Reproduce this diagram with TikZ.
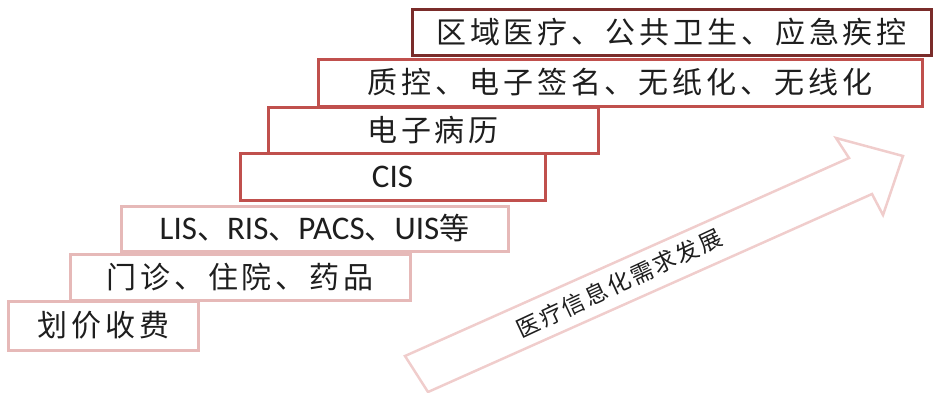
\documentclass[tikz,border=0pt]{standalone}
\usepackage{fontspec}
\setmainfont{Carlito}
\newfontfamily\cjk[LetterSpace=13]{Noto Sans CJK SC}
\newfontfamily\cjkarrow[LetterSpace=9]{Noto Sans CJK SC}
\newcommand{\cjkpart}[1]{{\fontsize{30}{36}\selectfont\cjk #1}}
\definecolor{darkred}{RGB}{122,44,42}
\definecolor{midred}{RGB}{192,80,77}
\definecolor{lightred}{RGB}{230,185,184}
\definecolor{arrowc}{RGB}{240,205,204}
\definecolor{txt}{RGB}{30,30,30}
\tikzset{
  stepbox/.style={draw, line width=3pt, inner sep=0pt, text=txt, font=\fontsize{30}{36}\selectfont},
  latinbox/.style={stepbox, font=\fontsize{33}{38}\selectfont},
}
\begin{document}
\begin{tikzpicture}[x=1pt, y=-1pt]
\useasboundingbox (0,0) rectangle (933,392);
% arrow
\coordinate (t1) at (405,356);
\coordinate (s1) at (849,158);
\coordinate (h1) at (836,138);
\coordinate (tip) at (903,156);
\coordinate (h2) at (883,215);
\coordinate (s2) at (872,194);
\coordinate (t2) at (428,392);
\draw[arrowc, line width=2.5pt, line join=miter] (t1) -- (s1) -- (h1) -- (tip) -- (h2) -- (s2) -- (t2) -- cycle;
\node[rotate=25, text=txt, font=\fontsize{23}{28}\selectfont\cjkarrow, inner sep=0pt] (lab) at (619,283) {医疗信息化需求发展};
% steps
\node[stepbox, draw=lightred, minimum width=190, minimum height=49] (b1) at (103.5,325.5) {\cjk 划价收费};
\node[stepbox, draw=lightred, minimum width=340, minimum height=46] (b2) at (240,277) {\cjk 门诊、住院、药品};
\node[latinbox, draw=lightred, minimum width=387, minimum height=45] (b3) at (314.5,228.5) {LIS\cjkpart{、}RIS\cjkpart{、}PACS\cjkpart{、}UIS\cjkpart{等}};
\node[latinbox, draw=midred, minimum width=305, minimum height=47] (b4) at (392.5,176.5) {CIS};
\node[stepbox, draw=midred, minimum width=330, minimum height=46] (b5) at (433,130) {\cjk 电子病历};
\node[stepbox, draw=midred, minimum width=604, minimum height=47] (b6) at (620,82.5) {\cjk 质控、电子签名、无纸化、无线化};
\node[stepbox, draw=darkred, minimum width=519, minimum height=46] (b7) at (671.5,32) {\cjk 区域医疗、公共卫生、应急疾控};
\end{tikzpicture}
\end{document}
